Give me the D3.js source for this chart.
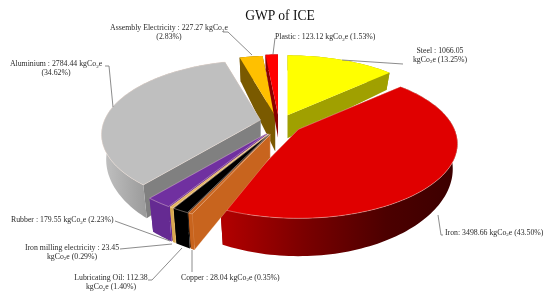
<!DOCTYPE html>
<html><head><meta charset="utf-8">
<script src="https://cdnjs.cloudflare.com/ajax/libs/d3/7.8.5/d3.min.js"></script>
<style>html,body{margin:0;padding:0;background:#fff}svg{display:block;filter:blur(0.35px)}text{font-family:"Liberation Serif","Times New Roman",serif;fill:#2a2a2a}</style>
</head><body><svg id="c" width="550" height="297"></svg>
<script>
const title = "GWP of ICE";
const categories = ["Steel","Iron","Copper","Lubricating Oil","Iron milling electricity","Rubber","Aluminium","Assembly Electricity","Plastic"];
const values = [1066.05,3498.66,28.04,112.38,23.45,179.55,2784.44,227.27,123.12];
const shares = ["13.25%","43.50%","0.35%","1.40%","0.29%","2.23%","34.62%","2.83%","1.53%"];
const separators = [" : ",": "," : ",": "," : "," : "," : "," : "," : "];

// styling and layout, kept apart from the data
const topColors = ["#ffff00","#e00000","#c8641e","#000000","#e2b45c","#7030a0","#bfbfbf","#ffc000","#ff0000"];
const wallColors = ["#a0a000","#8a0000","#c8641e","#000000","#d8a850","#652a92","#808080","#7a5a00","#8a0000"];
const depthScale = [1,1,1,1,1,1,1,1.55,1];
const nudges = [[0,0],[2.5,-1.5],[0,0],[0,0],[0,0],[0,0],[2,-2],[0,1],[0,0]];
const labelBreaks = [
  {lines:1,x:440,y:52.5,anchor:"middle",brk:"Steel : 1066.05"},
  {lines:1,x:445,y:234.5,anchor:"start"},
  {lines:1,x:181,y:279.5,anchor:"start"},
  {x:111,y:280,anchor:"middle",brk:"Lubricating Oil: 112.38"},
  {x:72,y:249.5,anchor:"middle",brk:"Iron milling electricity : 23.45"},
  {lines:1,x:11,y:222,anchor:"start"},
  {x:56,y:66,anchor:"middle",brk:"Aluminium : 2784.44 kgCo₂e"},
  {x:169,y:30,anchor:"middle",brk:"Assembly Electricity : 227.27 kgCo₂e"},
  {lines:1,x:275,y:39,anchor:"start"}
];
const leaders = [
  [[403,64],[342,60]],
  [[443,235],[441,235],[438,215]],
  [[192,272],[192,250]],
  [[148,280],[152,280],[182,248]],
  [[120,249],[172,244]],
  [[115,221],[170,241]],
  [[105,66],[109,66],[113,107]],
  [[223,32],[228,32],[252,55]],
  [[275,38],[273,54]]
];

const svg = d3.select("#c");
const cx = 279, cy = 124, RX = 156, RY = 71.7, K = 0.1946, EX = 21, D0 = 23, M = 0.97;

const pie = d3.pie().sort(null).startAngle(0).endAngle(2*Math.PI).value(d=>d);
const arcs = pie(values);

const defs = svg.append("defs");
function grad(id, x1, x2, stops){
  const g = defs.append("linearGradient").attr("id",id).attr("gradientUnits","userSpaceOnUse")
    .attr("x1",x1).attr("x2",x2).attr("y1",0).attr("y2",0);
  stops.forEach(s=>g.append("stop").attr("offset",s[0]).attr("stop-color",s[1]));
}
grad("ironWall",225,455,[[0,"#b00000"],[0.35,"#7a0000"],[0.7,"#4c0000"],[1,"#3c0000"]]);
grad("aluWall",100,147,[[0,"#c4c4c4"],[1,"#9a9a9a"]]);

function sc(Y){ return 1/(1+K*Y); }
function origin(mid,n){
  const c=Math.cos(mid);
  return [cx+EX*Math.sin(mid)+n[0], cy-EX*(c>0?0.45:0.55)*c+n[1]];
}
function topPt(o,a,r=1){
  const X=r*Math.sin(a), Y=r*Math.cos(a), s=sc(Y);
  return [o[0]+X*s*RX, o[1]-Y*s*RY];
}
function botPt(o,a,r=1,ds=1){
  const Y=r*Math.cos(a), s=sc(Y), p=topPt(o,a,r);
  return [o[0]+(p[0]-o[0])*M, p[1]+ds*D0*Math.pow(s,2.3)];
}
const line = d3.line();
const closed = pts => line(pts)+"Z";
const drawOrder = [7,8,0,6,1,5,4,3,2];
const edge = "#ffe8dc";

drawOrder.forEach(i=>{
  const d=arcs[i], mid=(d.startAngle+d.endAngle)/2, o=origin(mid,nudges[i]), ds=depthScale[i];
  const n=Math.max(4,Math.ceil((d.endAngle-d.startAngle)*40));
  const as=d3.range(n+1).map(j=>d.startAngle+(d.endAngle-d.startAngle)*j/n);
  const g=svg.append("g");
  const wall=(a)=>closed([o,topPt(o,a),botPt(o,a,1,ds),botPt(o,0,0,ds)]);
  const wc=wallColors[i];
  const thin = i===2||i===4;
  g.append("path").attr("d",wall(d.endAngle)).attr("fill",wc);
  g.append("path").attr("d",wall(d.startAngle)).attr("fill",wc)
    .attr("stroke",thin||i===3?edge:"none").attr("stroke-width",.4).attr("stroke-opacity",.6);
  const outer=as.map(a=>topPt(o,a)).concat(as.slice().reverse().map(a=>botPt(o,a,1,ds)));
  const fill = i===1?"url(#ironWall)": i===6?"url(#aluWall)":wc;
  g.append("path").attr("d",closed(outer)).attr("fill",fill);
  g.append("path").attr("d",closed([o].concat(as.map(a=>topPt(o,a))))).attr("fill",topColors[i])
    .attr("stroke",edge).attr("stroke-width",.6).attr("stroke-opacity",i===0||i===7||i===8?0:.65);
});

leaders.forEach(p=>{
  svg.append("path").attr("d",line(p)).attr("fill","none").attr("stroke","#7f7f7f").attr("stroke-width",.9);
});

function addRuns(t, s){
  const parts=s.split("₂");
  parts.forEach((part,k)=>{
    if(k>0){
      t.append("tspan").attr("font-size",5).attr("dy",1.5).text("2");
      t.append("tspan").attr("dy",-1.5).text(part);
    } else t.append("tspan").text(part);
  });
}
categories.forEach((c,i)=>{
  const L=labelBreaks[i];
  const full=`${c}${separators[i]}${values[i].toFixed(2)} kgCo₂e (${shares[i]})`;
  const rows=L.brk?[L.brk, full.slice(L.brk.length).trim()]:[full];
  rows.forEach((r,k)=>{
    const t=svg.append("text").attr("x",L.x).attr("y",L.y+k*9.3).attr("text-anchor",L.anchor).attr("font-size",7.8);
    addRuns(t,r);
  });
});
svg.append("text").attr("x",280).attr("y",20).attr("text-anchor","middle").attr("font-size",13.6).style("fill","#111").text(title);
</script></body></html>
